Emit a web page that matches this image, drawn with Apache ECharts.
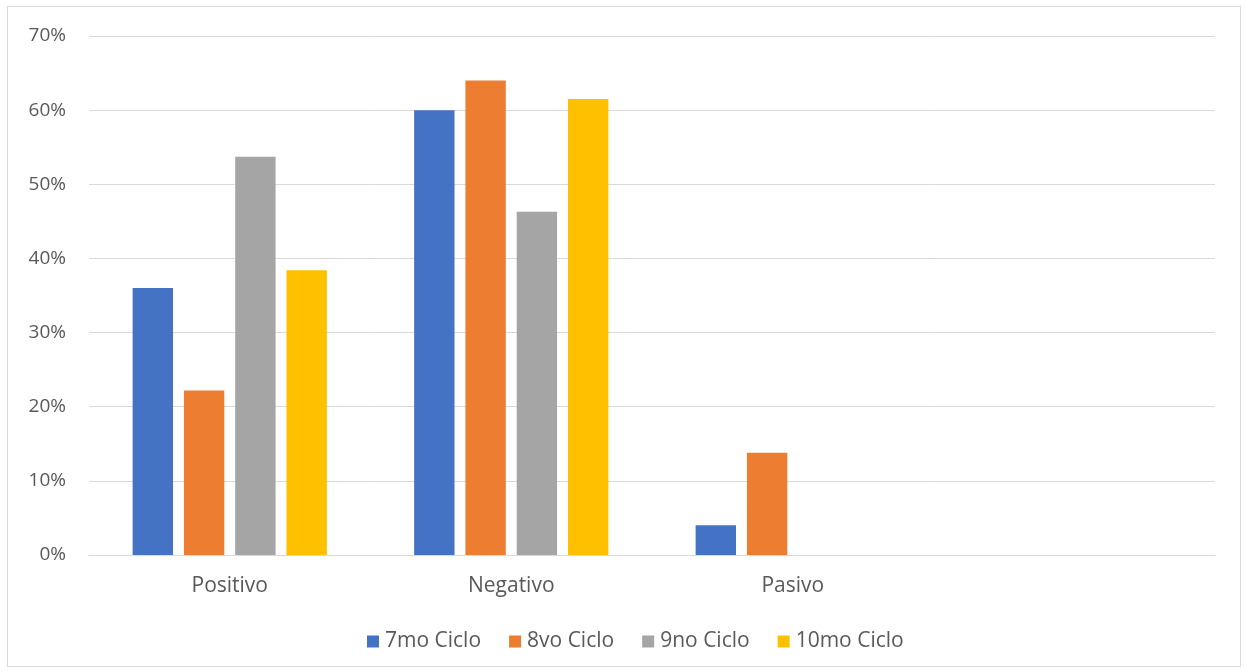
<!DOCTYPE html>
<html>
<head>
<meta charset="utf-8">
<script src="https://cdn.jsdelivr.net/npm/echarts@6/dist/echarts.min.js"></script>
<style>
html,body{margin:0;padding:0;background:#fff;}
#frame{position:absolute;left:7px;top:6px;width:1234px;height:661px;border:1px solid #d9d9d9;box-sizing:border-box;}
#chart{position:absolute;left:0;top:0;width:1246px;height:672px;}
</style>
</head>
<body>
<div id="frame"></div>
<div id="chart"></div>
<script>
const categories = ['Positivo', 'Negativo', 'Pasivo', ''];
const seriesNames = ['7mo Ciclo', '8vo Ciclo', '9no Ciclo', '10mo Ciclo'];
const s7mo = [36.0, 60.0, 4.0, null];
const s8vo = [22.2, 64.0, 13.8, null];
const s9no = [53.7, 46.3, 0, null];
const s10mo = [38.4, 61.5, 0, null];
const colors = ['#4472c4', '#ed7d31', '#a5a5a5', '#ffc000'];
const yTicks = [0, 10, 20, 30, 40, 50, 60, 70];

const allData = [s7mo, s8vo, s9no, s10mo];
const chart = echarts.init(document.getElementById('chart'));
const font = '"Open Sans", "Noto Sans", sans-serif';
chart.setOption({
  animation: false,
  textStyle: { fontFamily: font },
  grid: { left: 89, right: 31, top: 36, bottom: 117, containLabel: false },
  legend: {
    data: seriesNames,
    top: 626,
    left: 362,
    itemWidth: 12,
    itemHeight: 12,
    itemGap: 28,
    icon: 'rect',
    textStyle: { fontSize: 21, color: '#595959', fontFamily: font, padding: [0, 0, 0, 1] }
  },
  xAxis: {
    type: 'category',
    data: categories,
    axisLine: { show: true, lineStyle: { color: '#d9d9d9', width: 1 } },
    axisTick: { show: false },
    axisLabel: { fontSize: 21, color: '#595959', margin: 21, fontFamily: font }
  },
  yAxis: {
    type: 'value',
    min: yTicks[0],
    max: yTicks[yTicks.length - 1],
    interval: 10,
    axisLine: { show: false },
    axisTick: { show: false },
    axisLabel: { fontSize: 19, color: '#595959', margin: 23, formatter: v => v + '%', fontFamily: font },
    splitLine: { lineStyle: { color: '#d9d9d9', width: 1 } }
  },
  series: seriesNames.map((n, i) => ({
    name: n,
    type: 'bar',
    data: allData[i],
    barGap: '27%',
    barCategoryGap: '31%',
    itemStyle: { color: colors[i] }
  }))
});
</script>
</body>
</html>
